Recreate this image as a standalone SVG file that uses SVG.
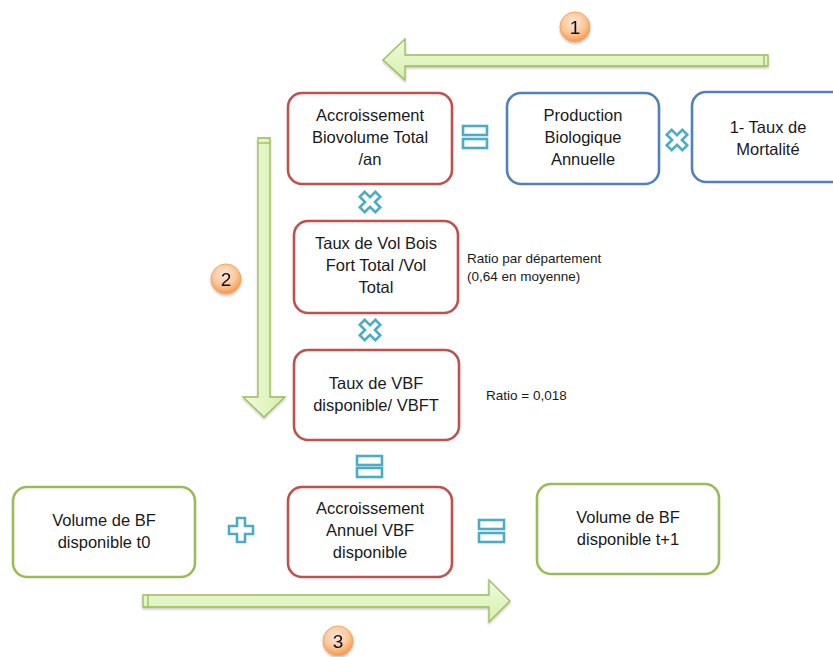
<svg xmlns="http://www.w3.org/2000/svg" width="833" height="657" viewBox="0 0 833 657">
<defs>
<linearGradient id="gh" x1="0" y1="0" x2="0" y2="1">
<stop offset="0" stop-color="#eefadb"/><stop offset="1" stop-color="#d6f0ad"/>
</linearGradient>
<linearGradient id="gv" x1="0" y1="0" x2="1" y2="0">
<stop offset="0" stop-color="#eefadb"/><stop offset="1" stop-color="#d6f0ad"/>
</linearGradient>
<radialGradient id="gb" cx="0.45" cy="0.35" r="0.65">
<stop offset="0" stop-color="#fde9d9"/><stop offset="0.6" stop-color="#fbc79a"/><stop offset="1" stop-color="#f79646"/>
</radialGradient>
<filter id="sh" x="-20%" y="-20%" width="140%" height="150%">
<feDropShadow dx="0" dy="1.5" stdDeviation="1.2" flood-color="#000" flood-opacity="0.25"/>
</filter>
</defs>
<style>
.box{fill:#fff;stroke-width:2.6}
.red{stroke:#c0504d}
.blue{stroke:#4f81bd}
.green{stroke:#9bbb59}
.t{font-family:"Liberation Sans",Arial,sans-serif;font-size:16.5px;fill:#1a1a1a;text-anchor:middle}
.s{font-family:"Liberation Sans",Arial,sans-serif;font-size:13.5px;fill:#1a1a1a}
.op{fill:#fff;stroke:#4bacc6;stroke-width:2.6}
.arr{stroke:#9bbb59;stroke-width:1.3;stroke-linejoin:miter}
.badge{fill:url(#gb);stroke:#f6a561;stroke-width:1}
.bn{font-family:"Liberation Sans",Arial,sans-serif;font-size:19px;fill:#111;text-anchor:middle}
</style>

<g id="connectors">
  <g id="arrow1" filter="url(#sh)">
    <polygon class="arr" fill="url(#gh)" points="768,55 405,55 405,39 383,60 405,80 405,66 768,66"/>
    <line x1="764" y1="55" x2="764" y2="66" stroke="#9bbb59" stroke-width="1.3"/>
  </g>
  <g id="arrow2" filter="url(#sh)">
    <polygon class="arr" fill="url(#gv)" points="258,138 270,138 270,397 285,397 264,417 243,397 258,397"/>
    <line x1="258" y1="143" x2="270" y2="143" stroke="#9bbb59" stroke-width="1.3"/>
  </g>
  <g id="arrow3" filter="url(#sh)">
    <polygon class="arr" fill="url(#gh)" points="143,595 489,595 489,580 510,601 489,622 489,607 143,607"/>
    <line x1="148" y1="595" x2="148" y2="607" stroke="#9bbb59" stroke-width="1.3"/>
  </g>
  <g id="badge1" filter="url(#sh)"><circle class="badge" cx="575" cy="27" r="15"/><text class="bn" x="575" y="34">1</text></g>
  <g id="badge2" filter="url(#sh)"><circle class="badge" cx="226" cy="279" r="15"/><text class="bn" x="226" y="286">2</text></g>
  <g id="badge3" filter="url(#sh)"><circle class="badge" cx="338" cy="641" r="15"/><text class="bn" x="338" y="648">3</text></g>
</g>

<g id="ops">
  <g id="eq1"><rect class="op" x="463" y="126" width="24" height="9"/><rect class="op" x="463" y="139" width="24" height="9"/></g>
  <g id="eq2"><rect class="op" x="357" y="456" width="25" height="9"/><rect class="op" x="357" y="468" width="25" height="9"/></g>
  <g id="eq3"><rect class="op" x="479" y="520" width="25" height="9"/><rect class="op" x="479" y="533" width="25" height="9"/></g>
  <g id="x1" transform="translate(677,140) rotate(45)"><polygon class="op" points="-3.5,-11 3.5,-11 3.5,-3.5 11,-3.5 11,3.5 3.5,3.5 3.5,11 -3.5,11 -3.5,3.5 -11,3.5 -11,-3.5 -3.5,-3.5"/></g>
  <g id="x2" transform="translate(370,202) rotate(45)"><polygon class="op" points="-3.5,-11 3.5,-11 3.5,-3.5 11,-3.5 11,3.5 3.5,3.5 3.5,11 -3.5,11 -3.5,3.5 -11,3.5 -11,-3.5 -3.5,-3.5"/></g>
  <g id="x3" transform="translate(370,330) rotate(45)"><polygon class="op" points="-3.5,-11 3.5,-11 3.5,-3.5 11,-3.5 11,3.5 3.5,3.5 3.5,11 -3.5,11 -3.5,3.5 -11,3.5 -11,-3.5 -3.5,-3.5"/></g>
  <g id="plus" transform="translate(241,530)"><polygon class="op" points="-4,-12 4,-12 4,-4 12,-4 12,4 4,4 4,12 -4,12 -4,4 -12,4 -12,-4 -4,-4"/></g>
</g>

<g id="nodeA">
  <rect class="box red" x="288" y="93" width="164" height="91" rx="14"/>
  <text class="t" x="370" y="121">Accroissement</text>
  <text class="t" x="370" y="143">Biovolume Total</text>
  <text class="t" x="370" y="165">/an</text>
</g>
<g id="nodeB">
  <rect class="box blue" x="507" y="93" width="152" height="91" rx="14"/>
  <text class="t" x="583" y="121">Production</text>
  <text class="t" x="583" y="143">Biologique</text>
  <text class="t" x="583" y="165">Annuelle</text>
</g>
<g id="nodeC">
  <rect class="box blue" x="692" y="92" width="160" height="90" rx="14"/>
  <text class="t" x="768" y="133">1- Taux de</text>
  <text class="t" x="768" y="155">Mortalité</text>
</g>
<g id="nodeD">
  <rect class="box red" x="294" y="221" width="164" height="92" rx="14"/>
  <text class="t" x="376" y="249">Taux de Vol Bois</text>
  <text class="t" x="376" y="271">Fort Total /Vol</text>
  <text class="t" x="376" y="293">Total</text>
  <text class="s" x="467" y="263">Ratio par département</text>
  <text class="s" x="467" y="281">(0,64 en moyenne)</text>
</g>
<g id="nodeE">
  <rect class="box red" x="294" y="350" width="165" height="90" rx="14"/>
  <text class="t" x="376" y="389">Taux de VBF</text>
  <text class="t" x="376" y="411">disponible/ VBFT</text>
  <text class="s" x="486" y="400">Ratio = 0,018</text>
</g>
<g id="nodeF">
  <rect class="box green" x="13" y="487" width="182" height="90" rx="14"/>
  <text class="t" x="104" y="526">Volume de BF</text>
  <text class="t" x="104" y="548">disponible t0</text>
</g>
<g id="nodeG">
  <rect class="box red" x="288" y="487" width="164" height="90" rx="14"/>
  <text class="t" x="370" y="514">Accroissement</text>
  <text class="t" x="370" y="536">Annuel VBF</text>
  <text class="t" x="370" y="558">disponible</text>
</g>
<g id="nodeH">
  <rect class="box green" x="537" y="484" width="182" height="90" rx="14"/>
  <text class="t" x="628" y="523">Volume de BF</text>
  <text class="t" x="628" y="545">disponible t+1</text>
</g>
</svg>
